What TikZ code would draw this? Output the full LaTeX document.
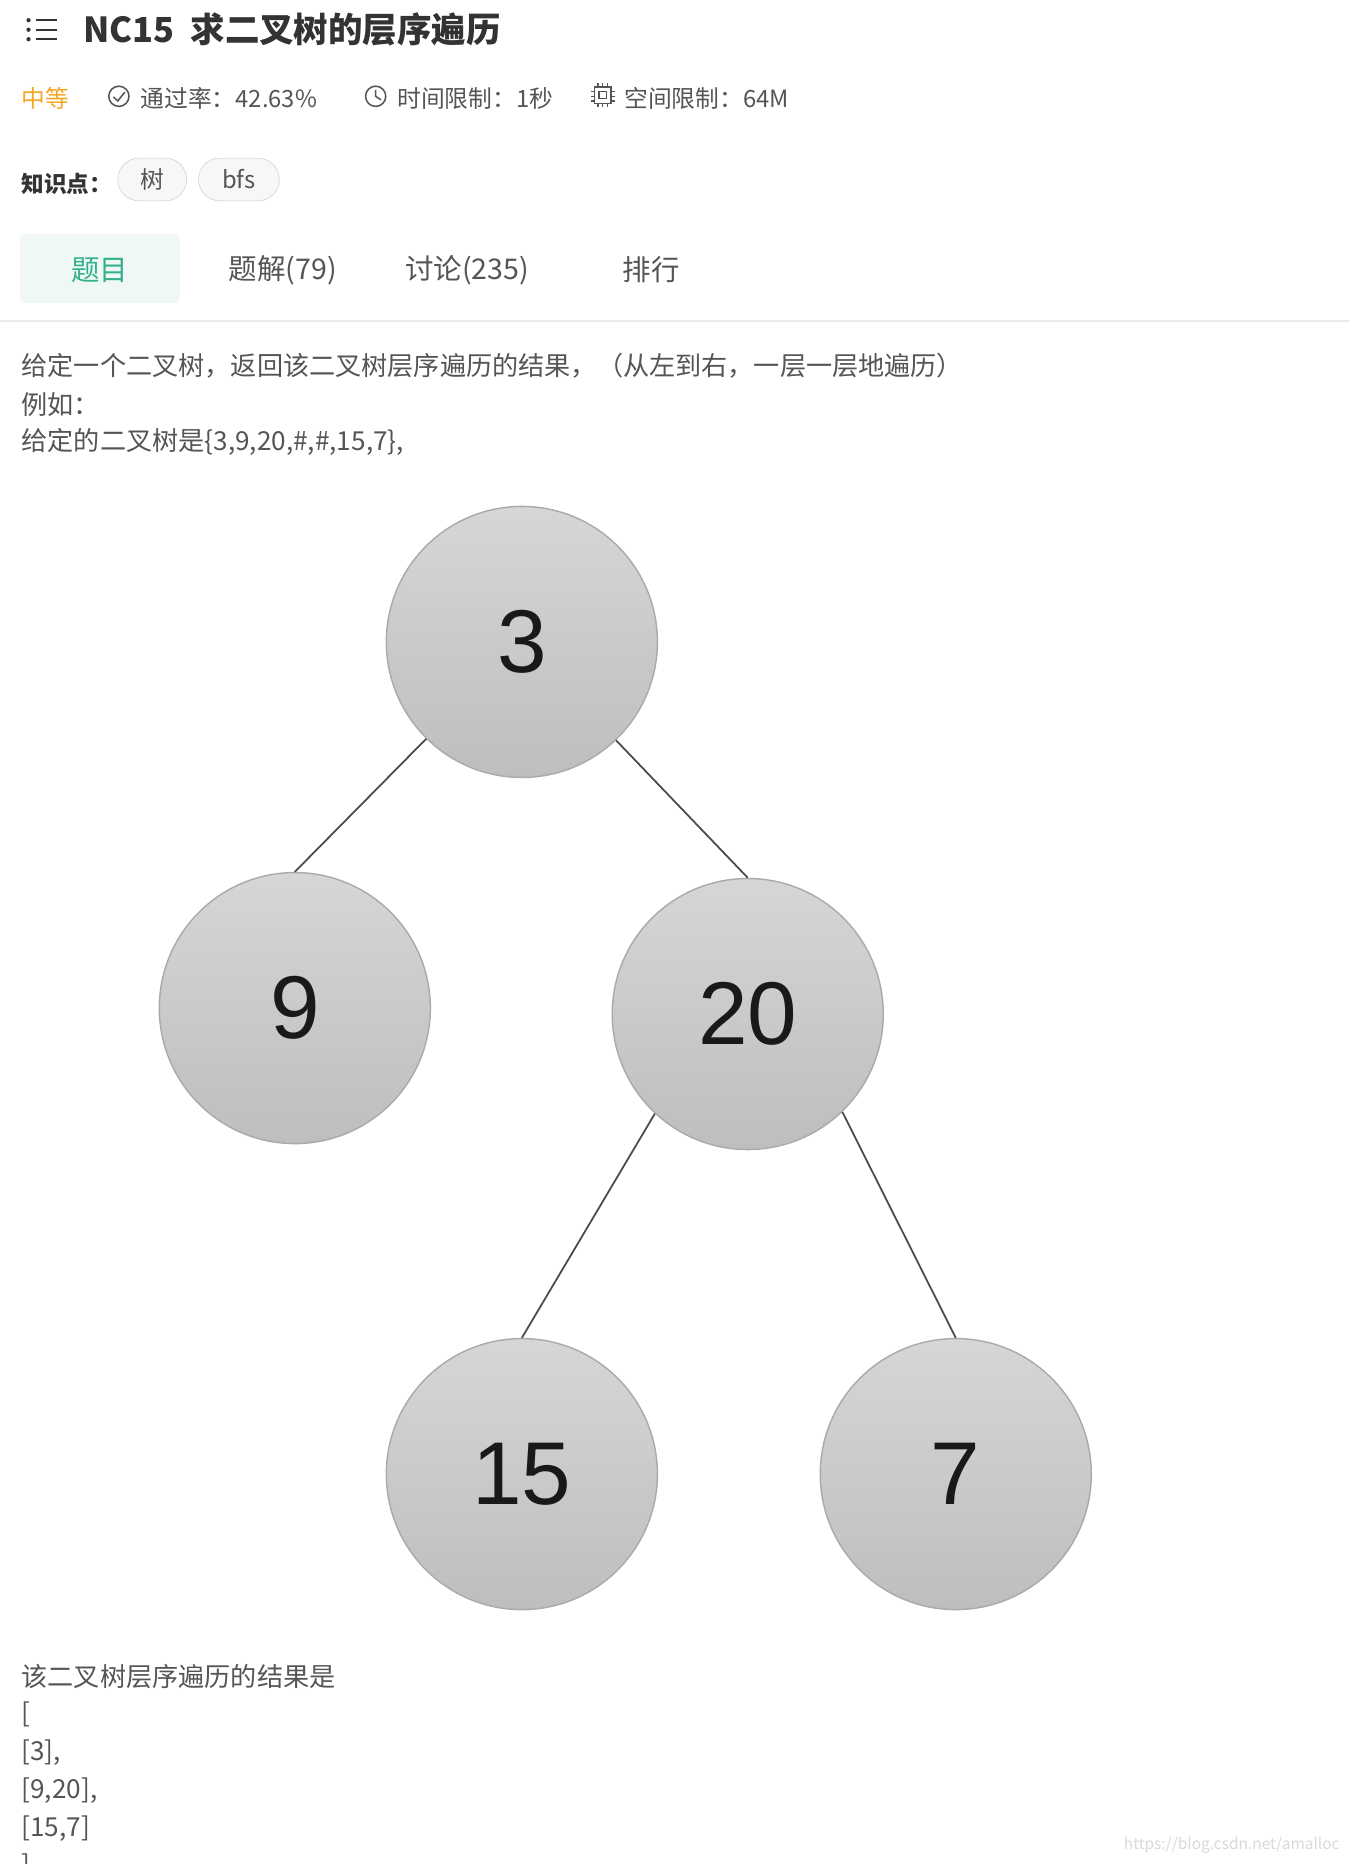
\documentclass[tikz,border=0pt]{standalone}
\usepackage{fontspec}
\setmainfont{Noto Sans CJK SC}
\newfontfamily\numfont{Liberation Sans}
\definecolor{txt}{RGB}{51,51,51}
\definecolor{mid}{RGB}{85,85,85}
\definecolor{orangec}{RGB}{245,166,35}
\definecolor{greenc}{RGB}{50,177,140}
\definecolor{greenbg}{RGB}{240,248,245}
\definecolor{ctop}{RGB}{214,214,214}
\definecolor{cbot}{RGB}{190,190,190}
\definecolor{cedge}{RGB}{170,170,170}
\begin{document}
\begin{tikzpicture}[x=1pt,y=-1pt,
  tn/.style={circle,minimum size=228pt,inner sep=0pt,draw=cedge,line width=1.2pt,top color=ctop,bottom color=cbot,font=\numfont\fontsize{75}{75}\selectfont,text=black!90},
  edge/.style={draw=black!70,line width=1.5pt},
  line/.style={anchor=west,font=\fontsize{22}{22}\selectfont,text=mid,inner sep=0pt},
  meta/.style={anchor=west,font=\fontsize{20}{20}\selectfont,text=mid,inner sep=0pt},
  pill/.style={draw=black!20,fill=black!3,rounded corners=18pt,minimum height=36pt,font=\fontsize{20}{20}\selectfont,text=mid},
  tab/.style={font=\fontsize{24}{24}\selectfont,text=mid,inner sep=0pt},
  icon/.style={draw=mid,line width=1.3pt}]
\useasboundingbox[fill=white] (0,0) rectangle (1135,1568);
% header
\foreach \yy in {17,25,33}{\fill[txt] (24,\yy) circle (1.8pt); \draw[txt,line width=2pt] (30,\yy)--(48,\yy);}
\node[anchor=west,inner sep=0pt,font=\bfseries\fontsize{29}{29}\selectfont,text=txt] (title) at (70,25) {NC15\ \ 求二叉树的层序遍历};
\node[meta,text=orangec] (lvl) at (18,83) {中等};
\draw[icon] (100,81) circle (8.5pt); \draw[icon] (95.5,81.5)--(99,85)--(105,77.5);
\node[meta] (pass) at (118,83) {通过率：42.63\%};
\draw[icon] (316,81) circle (8.5pt); \draw[icon] (316,75.5)--(316,81)--(320.5,84);
\node[meta] (time) at (334,83) {时间限制：1秒};
\draw[icon] (500,73) rectangle (514,87); \draw[icon] (504,77) rectangle (510,83);
\foreach \p in {503,507,511}{\draw[mid,line width=1pt] (\p,70)--(\p,73) (\p,87)--(\p,90) (497,\p-426)--(500,\p-426) (514,\p-426)--(517,\p-426);}
\node[meta] (space) at (525,83) {空间限制：64M};
\node[anchor=west,inner sep=0pt,font=\bfseries\fontsize{19}{19}\selectfont,text=txt] (kp) at (18,155) {知识点：};
\node[pill,minimum width=58pt] (t1) at (128,151) {树};
\node[pill,minimum width=68pt] (t2) at (201,151) {bfs};
\fill[greenbg,rounded corners=3pt] (17,197) rectangle (151,255);
\node[tab,text=greenc] (tb1) at (84,227) {题目};
\node[tab] (tb2) at (238,227) {题解(79)};
\node[tab] (tb3) at (393,227) {讨论(235)};
\node[tab] (tb4) at (548,227) {排行};
\draw[black!8,line width=1.2pt] (0,270)--(1135,270);
\node[line] (l1) at (18,308) {给定一个二叉树，返回该二叉树层序遍历的结果，（从左到右，一层一层地遍历）};
\node[line] (l2) at (18,340) {例如：};
\node[line] (l3) at (18,372) {给定的二叉树是\{3,9,20,\#,\#,15,7\},};
% tree
\node[tn] (n3) at (439,540) {3};
\node[tn] (n9) at (248,848) {9};
\node[tn] (n20) at (629,853) {20};
\node[tn] (n15) at (439,1240) {15};
\node[tn] (n7) at (804,1240) {7};
\draw[edge] (n3) -- (n9.north);
\draw[edge] (n3) -- (n20.north);
\draw[edge] (n20.227) -- (n15.north);
\draw[edge] (n20.-46) -- (n7.north);
\node[line] (r1) at (18,1410) {该二叉树层序遍历的结果是};
\node[line] (r2) at (18,1442) {[};
\node[line] (r3) at (18,1474) {[3],};
\node[line] (r4) at (18,1506) {[9,20],};
\node[line] (r5) at (18,1538) {[15,7]};
\node[line] (r6) at (18,1570) {]};
\node[anchor=east,inner sep=0pt,font=\fontsize{13}{13}\selectfont,text=black!15] (wm) at (1127,1552) {https://blog.csdn.net/amalloc};
\end{tikzpicture}
\end{document}
